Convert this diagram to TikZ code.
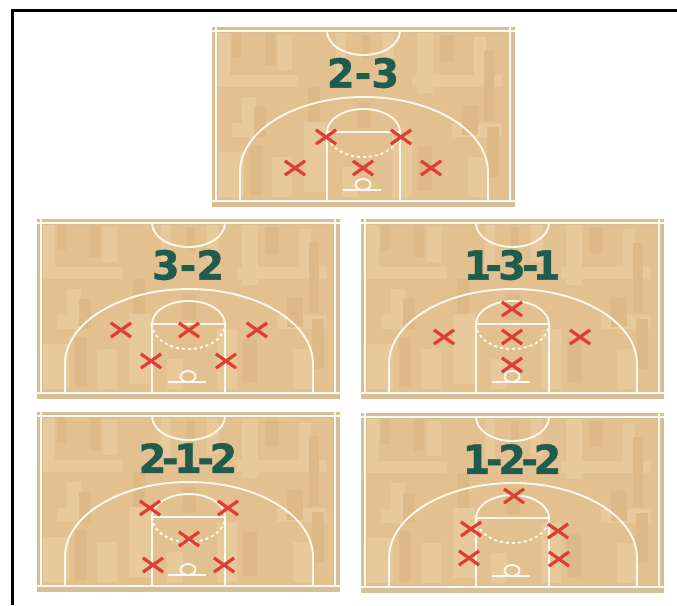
\documentclass[tikz,border=0pt]{standalone}
\usepackage{fontspec}
\setmainfont{DejaVu Sans}
\newfontfamily\titlefont{DejaVu Sans Bold}[FakeBold=1]
\usetikzlibrary{shapes.misc}
\definecolor{floorcolor}{RGB}{227,192,144}
\definecolor{edgecolor}{RGB}{216,190,150}
\definecolor{darkplank}{RGB}{221,185,135}
\definecolor{lightplank}{RGB}{232,201,155}
\definecolor{linecolor}{RGB}{254,249,236}
\definecolor{titlecolor}{RGB}{31,92,77}
\definecolor{defcolor}{RGB}{222,62,52}
\newcommand{\tg}{\kern-4.5pt}

\newcommand{\courtfloor}{
    %% Floor and planks
    \fill[edgecolor] (0,0) rectangle (303,180);
    \fill[floorcolor] (6,6) rectangle (296,173);
    \foreach \px/\py/\pw/\ph in {6/6/12/50, 30/70/14/40, 66/8/14/35, 124/6/10/40,
        170/6/12/36, 205/6/16/60, 262/10/12/40, 20/96/22/14, 6/48/80/12,
        200/48/90/12, 240/96/50/14, 92/95/22/70, 180/110/20/60, 256/130/20/40,
        6/125/26/45, 60/130/20/40, 130/140/16/30}
      \fill[lightplank] (\px,\py) rectangle ++(\pw,\ph);
    \foreach \px/\py/\pw/\ph in {20/6/9/25, 53/6/10/32, 96/60/12/35, 150/8/8/24,
        228/8/14/26, 272/24/10/70, 250/78/16/30, 42/80/12/30, 145/75/14/26,
        275/100/12/50, 38/118/12/50, 206/120/14/44}
      \fill[darkplank] (\px,\py) rectangle ++(\pw,\ph);
}

\newcommand{\courtlines}{
    %% Sidelines and baseline
    \draw[courtline] (4,0) -- (4,174);
    \draw[courtline] (298,0) -- (298,174);
    \draw[courtline] (0,4) -- (303,4);
    \draw[courtline] (0,174) -- (303,174);
    %% Centre circle, three point line, key
    \draw[courtline] (115,4) arc[start angle=180, end angle=0, x radius=36.5, y radius=24];
    \draw[courtline] (28,174) -- (28,145)
      arc[start angle=180, end angle=360, x radius=124, y radius=75] -- (276,174);
    \draw[courtline] (115,174) -- (115,105)
      arc[start angle=180, end angle=360, x radius=36.5, y radius=23] -- (188,174);
    \draw[courtline] (115,105) -- (188,105);
    \draw[courtline, dashed, dash pattern=on 3pt off 3pt]
      (115,105) arc[start angle=180, end angle=0, x radius=36.5, y radius=25];
    %% Backboard and hoop
    \draw[courtline] (131,163) -- (169,163);
    \draw[courtline] (151,157.5) ellipse[x radius=7.5, y radius=5.5];
}

\begin{document}
\begin{tikzpicture}[
    x=1pt, y=-1pt,
    courtline/.style={draw=linecolor, line width=1.9pt},
    title/.style={font=\fontsize{40}{40}\selectfont\titlefont, text=titlecolor, inner sep=0pt},
    defender/.style={cross out, draw=defcolor, line width=3.2pt, minimum width=17pt,
                     minimum height=11pt, inner sep=0pt}
  ]
    \useasboundingbox (0,0) rectangle (677,605);
    \fill[white] (0,0) rectangle (677,605);
    \draw[line width=3pt] (12,605) -- (12,10) -- (677,10);

    %% Court 1: 2-3
    \begin{scope}[shift={(212,27)}]
      \courtfloor \courtlines
      \node[title] (title1) at (151,46) {2-3};
      \foreach \dx/\dy [count=\i] in {114/110, 189/110, 83/141, 151/141, 219/141}
        \node[defender] (a\i) at (\dx,\dy) {};
    \end{scope}

    %% Court 2: 3-2
    \begin{scope}[shift={(37,219)}]
      \courtfloor \courtlines
      \node[title] (title2) at (151,46) {3-2};
      \foreach \dx/\dy [count=\i] in {84/111, 152/111, 220/111, 114/142, 189/142}
        \node[defender] (b\i) at (\dx,\dy) {};
    \end{scope}

    %% Court 3: 1-3-1
    \begin{scope}[shift={(361,219)}]
      \courtfloor \courtlines
      \node[title] (title3) at (151,46) {1\kern-6pt-\kern-4pt3\kern-4pt-\kern-6pt1};
      \foreach \dx/\dy [count=\i] in {151/90, 151/118, 151/146, 83/118, 219/118}
        \node[defender] (c\i) at (\dx,\dy) {};
    \end{scope}

    %% Court 4: 2-1-2
    \begin{scope}[shift={(37,412)}]
      \courtfloor \courtlines
      \node[title] (title4) at (151,46) {2\tg-\tg1\tg-\tg2};
      \foreach \dx/\dy [count=\i] in {113/96, 191/96, 152/127, 116/153, 187/153}
        \node[defender] (d\i) at (\dx,\dy) {};
    \end{scope}

    %% Court 5: 1-2-2
    \begin{scope}[shift={(361,413)}]
      \courtfloor \courtlines
      \node[title] (title5) at (151,46) {1\tg-\tg2\tg-\tg2};
      \foreach \dx/\dy [count=\i] in {153/83, 110/116, 197/118, 108/145, 198/146}
        \node[defender] (e\i) at (\dx,\dy) {};
    \end{scope}
  \end{tikzpicture}
\end{document}
